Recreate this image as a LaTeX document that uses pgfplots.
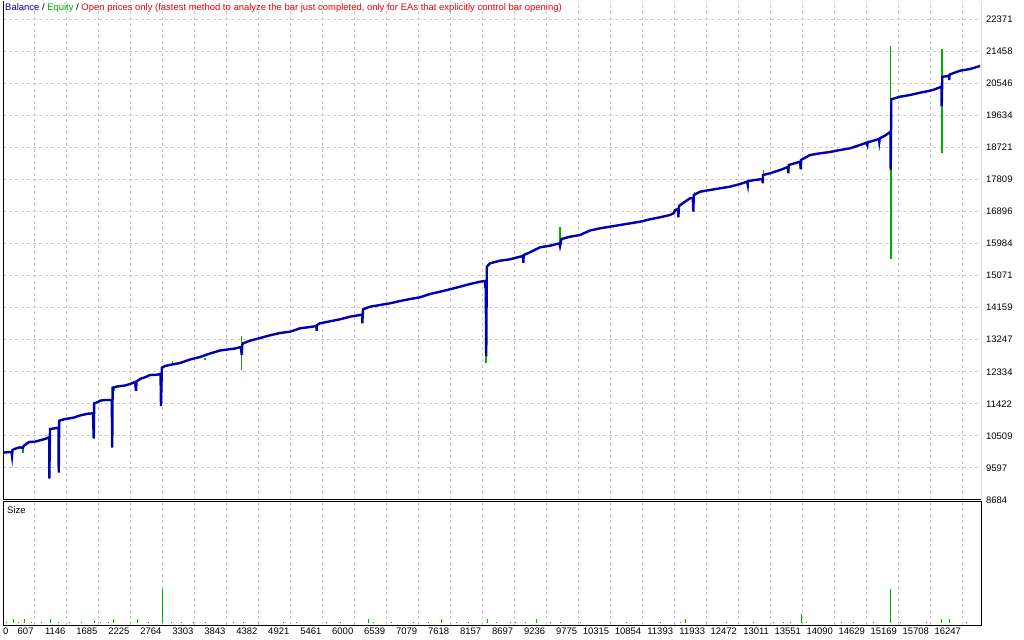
\documentclass[border=0pt]{standalone}
\usepackage{pgfplots}
\pgfplotsset{compat=1.18}
\usepackage{fontspec}
\setmainfont{Liberation Sans}
\definecolor{balblue}{RGB}{0,0,176}
\definecolor{eqgreen}{RGB}{0,176,0}
\definecolor{gridgray}{RGB}{200,200,200}
\definecolor{titlered}{RGB}{240,0,0}
\pgfplotsset{
  mtframe/.style={
    scale only axis, width=978bp,
    xmin=72, xmax=16567,
    scaled ticks=false,
    major tick length=0pt,
    xtick={607,1146,1685,2225,2764,3303,3843,4382,4921,5461,6000,6539,7079,7618,8157,8697,9236,9775,10315,10854,11393,11933,12472,13011,13551,14090,14629,15169,15708,16247},
    grid style={gridgray, line width=1bp, dash pattern=on 3bp off 3bp},
    tick label style={font=\fontsize{9.5}{11}\selectfont, inner sep=0pt},
  }
}
\begin{document}
\begin{tikzpicture}
\useasboundingbox (0bp,0bp) rectangle (1024bp,640bp);
% ---------------- main panel ----------------
\begin{axis}[mtframe,
  at={(3bp,140bp)}, anchor=south west, height=499bp,
  ymin=8684, ymax=22891,
  axis line style={draw=none},
  xticklabels={},
  ytick={8684,9597,10509,11422,12334,13247,14159,15071,15984,16896,17809,18721,19634,20546,21458,22371},
  yticklabels={8684,9597,10509,11422,12334,13247,14159,15071,15984,16896,17809,18721,19634,20546,21458,22371},
  ytick pos=right, yticklabel pos=right,
  yticklabel style={anchor=west},
  yticklabel shift=5bp,
  xmajorgrids, ymajorgrids,
]
% equity (green) excursions
\addplot[eqgreen, line width=1.2bp] coordinates {(410,10164) (410,10014)};
\addplot[eqgreen, line width=1.2bp] coordinates {(853,9310) (853,9280)};
\addplot[eqgreen, line width=1.2bp] coordinates {(1950,11881) (1950,11796)};
\addplot[eqgreen, line width=1.2bp] coordinates {(2928,12641) (2928,12556)};
\addplot[eqgreen, line width=1.2bp] coordinates {(3479,12735) (3479,12670)};
\addplot[eqgreen, line width=1.2bp] coordinates {(4098,13353) (4098,12385)};
\addplot[eqgreen, line width=1.5bp] coordinates {(8221,12764) (8221,12593)};
\addplot[eqgreen, line width=1.2bp] coordinates {(9467,16465) (9467,15992)};
\addplot[eqgreen, line width=1.2bp] coordinates {(11732,17461) (11732,17282)};
\addplot[eqgreen, line width=1.2bp] coordinates {(12896,18079) (12896,17937)};
\addplot[eqgreen, line width=1.2bp] coordinates {(15041,21609) (15041,19169)};
\addplot[eqgreen, line width=2bp] coordinates {(15041,18079) (15041,15537)};
\addplot[eqgreen, line width=1.2bp] coordinates {(15909,21515) (15909,20456)};
\addplot[eqgreen, line width=2bp] coordinates {(15909,19881) (15909,18554)};
% balance (blue)
\addplot[balblue, line width=2.4bp, line join=miter] coordinates {
(72,10031) (190,10051) (216,10051) (224,9945) (232,10108) (275,10144) (359,10184)
(410,10164) (418,10221) (443,10250) (511,10335) (612,10344) (696,10384) (781,10421)
(831,10458) (853,10463) (853,9302) (865,10705) (949,10725) (1008,10742) (1012,9461)
(1020,10942) (1067,10962) (1118,10990) (1202,11010) (1287,11038) (1337,11075)
(1405,11104) (1506,11141) (1590,11152) (1602,10429) (1610,11437) (1675,11474)
(1708,11511) (1793,11531) (1907,11531) (1914,10173) (1921,11881) (1995,11915)
(2130,11944) (2214,11986) (2299,12043) (2316,11796) (2324,12058) (2400,12143)
(2467,12177) (2552,12243) (2670,12251) (2729,12271) (2737,11360) (2751,12451)
(2805,12499) (2923,12542) (3058,12584) (3226,12684) (3395,12755) (3564,12855)
(3732,12940) (3985,12997) (4086,13040) (4098,12812) (4108,13097) (4120,13145)
(4238,13219) (4407,13296) (4576,13373) (4744,13438) (4913,13475) (5082,13572)
(5250,13609) (5360,13638) (5363,13504) (5368,13666) (5419,13715) (5588,13772)
(5756,13828) (5925,13903) (6093,13951) (6132,13965) (6132,13715) (6144,14113)
(6262,14187) (6431,14236) (6599,14284) (6768,14349) (6937,14406) (7105,14455)
(7274,14549) (7443,14614) (7611,14683) (7780,14757) (7949,14833) (8117,14899)
(8202,14919) (8207,14720) (8214,14890) (8222,12764) (8232,15326) (8286,15423)
(8455,15497) (8623,15537) (8792,15611) (8843,15631) (8848,15440) (8854,15659)
(8961,15736) (9129,15878) (9298,15924) (9458,15992) (9467,15915) (9492,16115)
(9635,16180) (9804,16229) (9973,16357) (10141,16419) (10479,16513) (10816,16607)
(10985,16676) (11153,16733) (11322,16798) (11389,16855) (11406,16940) (11457,16969)
(11462,16733) (11474,17054) (11575,17177) (11659,17273) (11706,17282) (11715,16892)
(11723,17367) (11828,17461) (11997,17510) (12165,17558) (12334,17604) (12503,17680)
(12621,17746) (12633,17652) (12638,17766) (12840,17814) (12882,17823) (12886,17700)
(12891,17937) (13008,17985) (13177,18079) (13312,18164) (13317,17985) (13324,18221)
(13515,18315) (13527,18099) (13532,18364) (13683,18506) (13852,18554) (14021,18592)
(14189,18648) (14358,18697) (14527,18791) (14636,18856) (14650,18791) (14658,18876)
(14695,18885) (14847,18962) (14852,18885) (14860,18982) (14948,19056) (15041,19169)
(15044,18079) (15054,20092) (15201,20166) (15370,20214) (15538,20280) (15707,20337)
(15791,20377) (15901,20456) (15904,19881) (15914,20735) (16028,20755) (16031,20641)
(16038,20798) (16213,20906) (16382,20955) (16550,21040)
};
\draw[black, line width=1bp] (rel axis cs:0,1) -- (rel axis cs:0,0) -- (rel axis cs:1,0) -- (rel axis cs:1,1);
\end{axis}
% ---------------- size panel ----------------
\begin{axis}[mtframe,
  at={(3bp,15bp)}, anchor=south west, height=123bp,
  ymin=-0.02, ymax=1.21,
  axis line style={black, line width=1bp},
  xticklabels={607,1146,1685,2225,2764,3303,3843,4382,4921,5461,6000,6539,7079,7618,8157,8697,9236,9775,10315,10854,11393,11933,12472,13011,13551,14090,14629,15169,15708,16247},
  xticklabel style={anchor=north east, xshift=-1bp},
  xticklabel shift=3bp,
  ytick=\empty,
  xmajorgrids,
  extra x ticks={72}, extra x tick labels={0},
  extra x tick style={grid=none, xticklabel style={anchor=north west, xshift=1bp}},
]
\addplot[ycomb, eqgreen, line width=1bp, mark=none] coordinates {
(135,0.01) (246,0.043) (330,0.01) (432,0.043) (556,0.01) (725,0.01) (865,0.043)
(1005,0.01) (1202,0.01) (1400,0.01) (1612,0.017) (1708,0.01) (1848,0.01) (1939,0.04)
(2214,0.01) (2337,0.043) (2523,0.01) (2759,0.34) (2918,0.01) (3086,0.01) (3282,0.01)
(3479,0.01) (3957,0.01) (4125,0.01) (4378,0.01) (4800,0.01) (5026,0.01) (5532,0.01)
(5756,0.01) (6233,0.043) (6318,0.01) (6628,0.01) (6993,0.01) (7245,0.01) (7471,0.043)
(7724,0.01) (7920,0.01) (8247,0.043) (8399,0.01) (8623,0.01) (8708,0.01) (8876,0.01)
(9062,0.043) (9298,0.01) (9467,0.01) (9804,0.01) (10310,0.01) (10592,0.01) (11153,0.01)
(11491,0.01) (11587,0.043) (11941,0.01) (12278,0.01) (12727,0.01) (13064,0.01)
(13233,0.01) (13346,0.01) (13532,0.093) (13628,0.01) (14218,0.01) (14414,0.01)
(14751,0.01) (15038,0.34) (15201,0.01) (15652,0.01) (15905,0.043) (16033,0.043) (16326,0.01)
};
\node[anchor=north west, inner sep=0pt, font=\fontsize{9.5}{11}\selectfont] at (rel axis cs:0,1) [xshift=4bp, yshift=-4bp] {Size};
\end{axis}
% ---------------- title ----------------
\node[anchor=west, inner sep=0pt, font=\fontsize{9.5}{11}\selectfont] at (5bp,632bp)
  {\textcolor{balblue}{Balance} / \textcolor{eqgreen}{Equity} / \textcolor{titlered}{Open prices only (fastest method to analyze the bar just completed, only for EAs that explicitly control bar opening)}};
\end{tikzpicture}
\end{document}
